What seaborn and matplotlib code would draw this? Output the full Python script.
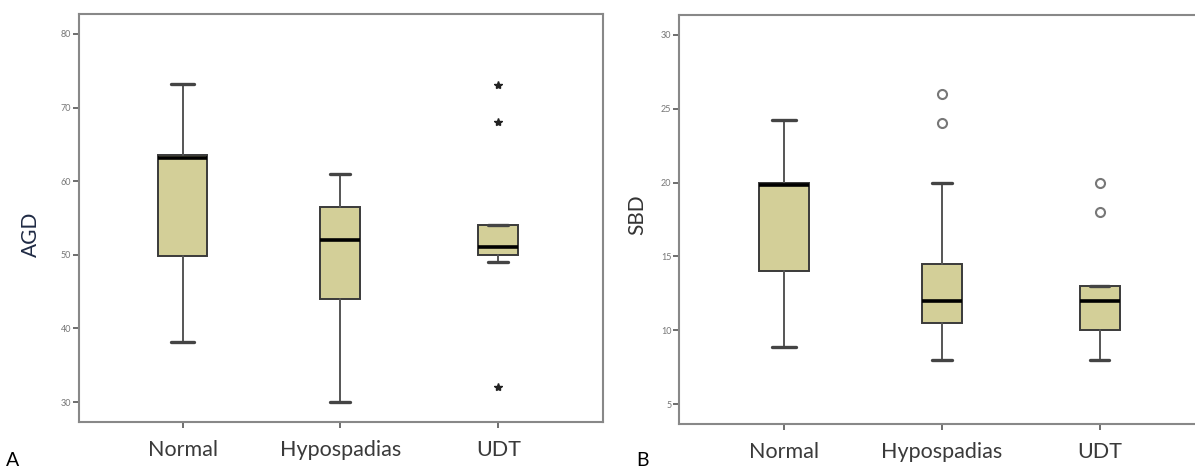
import numpy as np
import pandas as pd
import matplotlib
matplotlib.use("Agg")
import matplotlib.pyplot as plt
import seaborn as sns

sns.set_style("white")
plt.rcParams['font.family'] = ['Lato', 'DejaVu Sans']

categories = ["Normal", "Hypospadias", "UDT"]

# Panel A: AGD (five-number summaries)
agd_whislo = [38.1, 30.0, 49.0]
agd_q1 = [49.8, 44.0, 50.0]
agd_med = [63.2, 52.0, 51.0]
agd_q3 = [63.6, 56.5, 54.0]
agd_whishi = [73.2, 61.0, 54.0]
agd_fliers = [[], [], [73.0, 68.0, 32.0]]

# Panel B: SBD
sbd_whislo = [8.9, 8.0, 8.0]
sbd_q1 = [14.0, 10.5, 10.0]
sbd_med = [19.8, 12.0, 12.0]
sbd_q3 = [20.0, 14.5, 13.0]
sbd_whishi = [24.2, 20.0, 13.0]
sbd_fliers = [[], [26.0, 24.0], [20.0, 18.0]]

agd_ticks = [30, 40, 50, 60, 70, 80]
sbd_ticks = [5, 10, 15, 20, 25, 30]

BOX_COLOR = "#D3CF98"


def make_stats(lo, q1, med, q3, hi, fl):
    return [dict(label=c, whislo=lo[i], q1=q1[i], med=med[i], q3=q3[i],
                 whishi=hi[i], fliers=fl[i]) for i, c in enumerate(categories)]


fig = plt.figure(figsize=(11.95, 4.71), dpi=100)
axA = fig.add_axes([0.0661, 0.104, 0.4385, 0.8662])
axB = fig.add_axes([0.5682, 0.0992, 0.4340, 0.8690])


def draw(ax, stats, widths, capw, flierprops, ylim, xlim, ticks):
    ax.bxp(stats, positions=range(len(stats)), widths=widths, capwidths=capw,
           patch_artist=True, showfliers=True,
           boxprops=dict(facecolor=BOX_COLOR, edgecolor="#3a3a3a", linewidth=1.4),
           medianprops=dict(color="black", linewidth=2.6),
           whiskerprops=dict(color="#555555", linewidth=1.4),
           capprops=dict(color="#444444", linewidth=2.4),
           flierprops=flierprops)
    ax.set_ylim(*ylim)
    ax.set_xlim(*xlim)
    ax.set_yticks(ticks)
    ax.set_yticklabels([str(t) for t in ticks], fontsize=6.5, color="#777777")
    ax.set_xticks(range(len(categories)))
    ax.set_xticklabels(categories, fontsize=15.5, color="#3a3a3a")
    ax.tick_params(axis="y", direction="out", length=4, width=1.2, color="#555555", pad=1.5, left=True)
    ax.tick_params(axis="x", direction="out", length=4, width=1.2, color="#555555", pad=9, bottom=True)
    for s in ax.spines.values():
        s.set_color("#888888")
        s.set_linewidth(1.5)


draw(axA, make_stats(agd_whislo, agd_q1, agd_med, agd_q3, agd_whishi, agd_fliers),
     [0.31, 0.253, 0.253], [0.146, 0.127, 0.127],
     dict(marker="*", markerfacecolor="#222222", markeredgecolor="#222222", markersize=6),
     (27.3, 82.7), (-0.656, 2.663), agd_ticks)

draw(axB, make_stats(sbd_whislo, sbd_q1, sbd_med, sbd_q3, sbd_whishi, sbd_fliers),
     [0.32, 0.254, 0.254], [0.153, 0.121, 0.121],
     dict(marker="o", markerfacecolor="none", markeredgecolor="#777777", markersize=6.5, markeredgewidth=1.5),
     (3.65, 31.33), (-0.667, 2.62), sbd_ticks)

fig.text(31 / 1195, 1 - 234 / 471, "AGD", rotation=90, ha="center", va="center",
         fontsize=15, color="#1f2a44")
fig.text(637 / 1195, 1 - 215 / 471, "SBD", rotation=90, ha="center", va="center",
         fontsize=15, color="#333333")
fig.text(13 / 1195, 1 - 461 / 471, "A", ha="center", va="center", fontsize=14, color="black")
fig.text(642 / 1195, 1 - 461 / 471, "B", ha="center", va="center", fontsize=14, color="black")

fig.savefig("out.png", dpi=100, facecolor="white")
